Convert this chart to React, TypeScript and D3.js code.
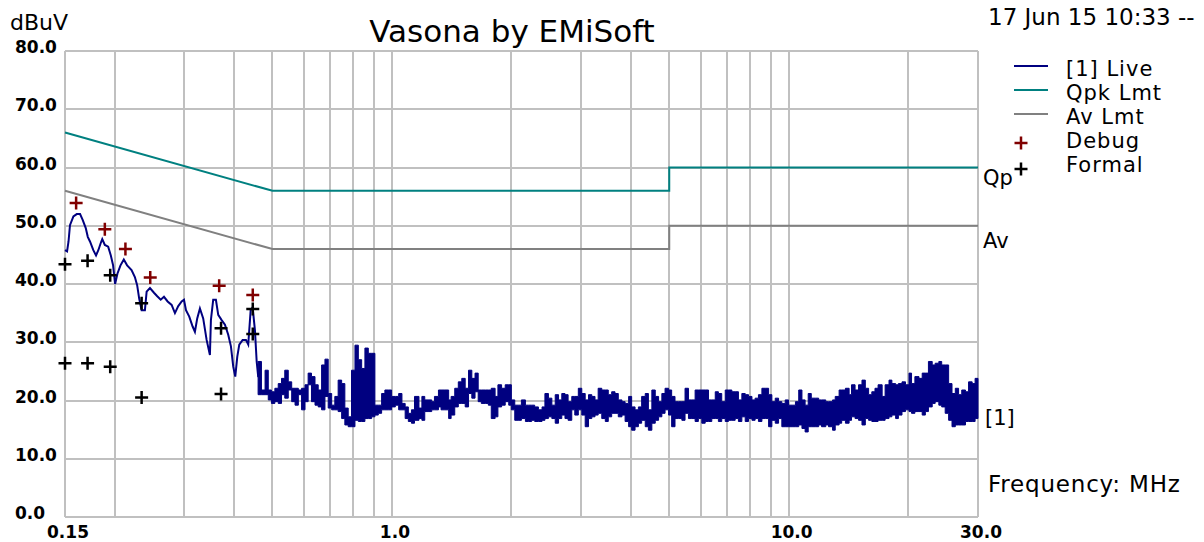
import React from 'react';
import * as d3 from 'd3';

const W = 1204;
const H = 542;

// limits, MHz / dBuV
const limitFreq = [0.15, 0.5, 5, 5, 30];
const qpkLimit = [66, 56, 56, 60, 60];
const avLimit = [56, 46, 46, 50, 50];

// live trace, low frequency part (single line)
const liveFreq = [
  0.150, 0.1518, 0.1531, 0.1544, 0.1575, 0.1606, 0.1637, 0.1662, 0.1692, 0.1712,
  0.1734, 0.1768, 0.1796, 0.1820, 0.1845, 0.1862, 0.1890, 0.1927, 0.1957, 0.1983,
  0.2006, 0.2034, 0.2070, 0.2110, 0.2151, 0.2207, 0.2250, 0.2280, 0.2307, 0.2340,
  0.2385, 0.2409, 0.2456, 0.2514, 0.2562, 0.2614, 0.2664, 0.2721, 0.2785, 0.2839,
  0.2894, 0.2952, 0.2992, 0.3027, 0.3085, 0.3146, 0.3188, 0.3231, 0.3282, 0.3345,
  0.3412, 0.3478, 0.3498, 0.3545, 0.3601, 0.3650, 0.3723, 0.3795, 0.3868, 0.3929,
  0.3982, 0.4029, 0.4076, 0.4124, 0.4205, 0.4287, 0.4344, 0.4406, 0.4457, 0.4517,
  0.4562, 0.4604,
];
const liveLevel = [
  45.8, 45.6, 47.3, 50.1, 51.6, 52.0, 52.0, 51.0, 49.6, 48.1,
  47.3, 45.8, 44.9, 45.8, 47.0, 47.7, 46.7, 46.4, 44.9, 43.2,
  40.0, 41.8, 43.2, 44.2, 43.2, 42.4, 41.2, 39.8, 37.5, 35.5,
  35.5, 38.7, 39.3, 38.5, 37.9, 37.3, 37.8, 37.0, 36.4, 35.0,
  36.2, 37.0, 37.3, 35.5, 34.4, 32.7, 31.8, 34.1, 35.8, 34.1,
  30.4, 27.8, 33.8, 37.3, 37.3, 34.7, 33.8, 33.0, 31.3, 29.3,
  25.8, 24.1, 27.5, 29.6, 30.4, 30.4, 29.6, 35.5, 36.0, 32.0,
  26.7, 24.0,
];

// live trace, noisy part: max/min per screen column
const bandFreq = [
  0.460, 0.469, 0.479, 0.488, 0.497, 0.507, 0.517, 0.527, 0.537, 0.548,
  0.559, 0.570, 0.581, 0.592, 0.604, 0.615, 0.627, 0.640, 0.652, 0.665,
  0.678, 0.691, 0.705, 0.718, 0.732, 0.747, 0.761, 0.776, 0.791, 0.807,
  0.823, 0.839, 0.855, 0.872, 0.889, 0.906, 0.924, 0.942, 0.960, 0.979,
  0.998, 1.02, 1.04, 1.06, 1.08, 1.10, 1.12, 1.14, 1.17, 1.19,
  1.21, 1.24, 1.26,
  1.28, 1.31, 1.33, 1.36, 1.39, 1.41, 1.44, 1.47, 1.50, 1.53,
  1.56, 1.59, 1.62, 1.65, 1.68, 1.72, 1.75, 1.78, 1.82, 1.85,
  1.89, 1.93, 1.97, 2.00, 2.04, 2.08, 2.12, 2.17, 2.21, 2.25,
  2.29, 2.34, 2.39, 2.43, 2.48, 2.53, 2.58, 2.63, 2.68, 2.73,
  2.78, 2.84, 2.89, 2.95, 3.01, 3.07, 3.13, 3.19, 3.25, 3.31,
  3.38, 3.45, 3.51, 3.58,
  3.65, 3.72, 3.80, 3.87, 3.95, 4.02, 4.10, 4.18, 4.26, 4.35,
  4.43, 4.52, 4.61, 4.70, 4.79, 4.88, 4.98, 5.07, 5.17, 5.27,
  5.38, 5.48, 5.59, 5.70, 5.81, 5.92, 6.04, 6.16, 6.28, 6.40,
  6.53, 6.65, 6.78, 6.92, 7.05, 7.19, 7.33, 7.47, 7.62, 7.77,
  7.92, 8.08, 8.23, 8.39, 8.56, 8.73, 8.90, 9.07, 9.25, 9.43,
  9.61, 9.80, 9.99, 10.2,
  10.4, 10.6, 10.8, 11.0, 11.2, 11.4, 11.7, 11.9, 12.1, 12.4,
  12.6, 12.9, 13.1, 13.4, 13.6, 13.9, 14.2, 14.4, 14.7, 15.0,
  15.3, 15.6, 15.9, 16.2, 16.5, 16.8, 17.2, 17.5, 17.9, 18.2,
  18.6, 18.9, 19.3, 19.7, 20.1, 20.4, 20.8, 21.3, 21.7, 22.1,
  22.5, 23.0, 23.4, 23.9, 24.3, 24.8, 25.3, 25.8, 26.3, 26.8,
  27.3, 27.9, 28.4, 29.0, 29.5, 30.0,
];
const bandHi = [
  26.7, 21.8, 25.2, 21.8, 21.5, 22.1, 22.9, 23.8, 25.2, 23.2,
  22.1, 22.1, 21.8, 22.1, 22.7, 24.7, 24.1, 22.7, 21.8, 26.1,
  27.1, 21.2, 19.2, 20.7, 23.5, 22.9, 18.7, 17.2, 25.2, 29.5,
  27.0, 25.5, 29.0, 28.1, 28.1, 19.2, 19.2, 21.2, 21.8, 21.8,
  20.7, 20.7, 21.2, 19.5, 18.9, 17.8, 18.4, 20.7, 18.7, 20.7,
  20.1, 20.1, 19.8,
  20.7, 21.8, 21.8, 21.8, 20.1, 20.7, 22.1, 23.2, 23.8, 22.1,
  25.2, 23.8, 24.7, 21.8, 21.8, 21.8, 21.8, 22.1, 20.7, 22.7,
  22.1, 22.7, 22.7, 20.1, 19.2, 19.2, 20.1, 19.2, 19.2, 19.2,
  18.9, 18.4, 18.9, 21.2, 20.4, 19.2, 21.0, 20.1, 21.2, 21.0,
  19.8, 20.7, 20.7, 22.1, 21.2, 20.1, 21.0, 20.7, 20.1, 22.1,
  21.8, 21.8, 21.0, 21.5,
  21.2, 20.1, 19.8, 19.5, 20.7, 18.9, 18.4, 18.9, 20.7, 21.2,
  18.4, 21.8, 20.7, 19.8, 21.2, 22.1, 21.8, 20.7, 19.8, 19.8,
  19.8, 22.1, 20.1, 20.1, 21.8, 21.8, 21.8, 21.8, 20.1, 20.1,
  21.5, 21.2, 19.8, 21.8, 21.8, 21.5, 21.5, 20.1, 21.2, 21.0,
  20.7, 20.1, 20.4, 21.0, 22.1, 22.1, 21.0, 19.8, 20.4, 19.8,
  19.5, 20.1, 19.2, 19.2,
  19.8, 21.8, 20.1, 19.2, 21.2, 20.4, 20.4, 20.1, 20.1, 19.8,
  19.8, 20.1, 20.7, 21.8, 21.8, 22.1, 21.0, 22.7, 21.8, 22.7,
  23.5, 22.1, 21.0, 21.5, 22.1, 22.7, 20.7, 22.7, 23.5, 22.9,
  22.7, 22.9, 23.2, 22.7, 24.7, 22.9, 24.1, 23.8, 24.7, 24.7,
  26.7, 26.1, 26.4, 26.7, 26.1, 26.1, 22.9, 21.2, 22.1, 21.0,
  21.8, 21.5, 23.2, 22.9, 23.8, 23.8,
];
const bandLo = [
  21.0, 21.0, 21.0, 20.1, 19.5, 19.8, 19.5, 21.0, 20.4, 21.8,
  19.8, 19.2, 21.0, 18.4, 19.8, 22.7, 19.8, 19.2, 18.9, 18.4,
  20.7, 18.7, 18.4, 18.4, 18.1, 16.9, 15.8, 15.5, 15.5, 16.6,
  16.4, 16.4, 16.9, 16.9, 17.2, 17.5, 17.8, 18.4, 18.4, 18.4,
  18.9, 19.2, 18.4, 18.4, 16.9, 16.4, 16.1, 16.6, 16.9, 16.6,
  18.1, 18.1, 18.4,
  18.4, 18.9, 18.4, 18.4, 16.9, 17.5, 18.9, 19.5, 19.5, 18.9,
  21.2, 20.4, 21.5, 19.8, 19.5, 19.5, 19.2, 16.9, 17.2, 18.9,
  19.2, 19.8, 19.2, 18.4, 16.6, 16.6, 16.9, 16.4, 16.4, 16.6,
  16.4, 16.4, 16.6, 16.9, 17.2, 16.9, 16.1, 16.9, 17.5, 16.9,
  16.6, 18.4, 17.5, 18.4, 17.5, 15.5, 16.9, 17.2, 17.5, 17.8,
  16.9, 16.4, 17.2, 17.8,
  17.8, 17.2, 17.5, 16.4, 15.5, 14.9, 15.5, 16.1, 16.6, 15.5,
  14.9, 16.1, 16.6, 17.2, 17.8, 18.4, 17.5, 15.5, 16.9, 16.9,
  16.6, 17.8, 16.9, 16.9, 16.4, 16.9, 16.1, 16.4, 16.4, 16.9,
  16.9, 16.4, 16.9, 16.4, 16.6, 16.6, 16.9, 16.4, 17.2, 16.4,
  16.9, 16.6, 16.9, 16.4, 16.9, 16.9, 15.5, 16.6, 16.1, 16.9,
  15.5, 15.5, 15.5, 15.5,
  15.5, 15.8, 15.2, 14.6, 15.5, 15.5, 15.5, 15.8, 15.5, 15.8,
  15.5, 14.9, 15.8, 16.1, 16.6, 16.1, 16.6, 17.2, 16.9, 16.6,
  15.8, 16.9, 16.6, 16.4, 16.4, 16.6, 16.6, 16.9, 17.2, 17.5,
  16.9, 17.5, 18.1, 18.4, 18.1, 17.8, 18.1, 18.1, 17.5, 18.1,
  18.9, 19.5, 19.8, 19.2, 18.9, 17.8, 16.6, 15.5, 15.8, 15.8,
  15.8, 16.4, 16.4, 16.4, 16.9, 16.9,
];

const debugFreq = [0.160, 0.189, 0.213, 0.246, 0.367, 0.446];
const debugLevel = [53.9, 49.4, 46.0, 41.1, 39.7, 38.1];
const formalFreq = [0.150, 0.171, 0.195, 0.234, 0.371, 0.446];
const formalQp = [43.4, 44.0, 41.5, 36.7, 32.4, 35.7];
const formalAv = [26.4, 26.4, 25.8, 20.5, 21.1, 31.4];

const gridFreq = [
  0.15, 0.2, 0.3, 0.4, 0.5, 0.6, 0.7, 0.8, 0.9,
  1, 2, 3, 4, 5, 6, 7, 8, 9, 10, 20, 30,
];
const yTicks = [0, 10, 20, 30, 40, 50, 60, 70, 80];
const xLabelFreq = [0.15, 1, 10, 30];
const xLabels = ['0.15', '1.0', '10.0', '30.0'];

const legendLabels = ['[1] Live', 'Qpk Lmt', 'Av Lmt', 'Debug', 'Formal'];

const NAVY = '#000080';
const TEAL = '#008080';
const GREY = '#808080';
const GRID = '#c0c0c0';
const DEBUG = '#800000';

const font = "'DejaVu Sans', sans-serif";

const x = d3.scaleLog().domain([0.15, 30]).range([65, 978]);
const y = d3.scaleLinear().domain([0, 80]).range([517, 51]);

const plus = (cx: number, cy: number) => `M${cx - 6.5},${cy}H${cx + 6.5}M${cx},${cy - 6.5}V${cy + 6.5}`;

export default function App() {
  const line = d3.line<number>().x((_, i) => x(liveFreq[i])).y(d => y(d));
  const band = d3.area<number>()
    .curve(d3.curveStepAfter)
    .x((_, i) => x(bandFreq[i]))
    .y0((_, i) => y(bandLo[i]))
    .y1(d => y(d));
  const limit = (vals: number[]) =>
    d3.line<number>().x((_, i) => x(limitFreq[i])).y(d => y(d))(vals) || '';

  const legendY = [66, 90, 114, 143, 169];
  const legendText = [76, 100, 124, 148, 172];

  return (
    <svg width={W} height={H} style={{ position: 'absolute', left: 0, top: 0, background: '#fff' }}>
      {/* grid */}
      <g stroke={GRID} strokeWidth={2} shapeRendering="crispEdges">
        {gridFreq.map(f => (
          <line key={'v' + f} x1={x(f)} x2={x(f)} y1={y(80)} y2={y(0)} />
        ))}
        {yTicks.map(t => (
          <line key={'h' + t} x1={x(0.15)} x2={x(30)} y1={y(t)} y2={y(t)} />
        ))}
      </g>

      {/* limits */}
      <path d={limit(avLimit)} fill="none" stroke={GREY} strokeWidth={2} />
      <path d={limit(qpkLimit)} fill="none" stroke={TEAL} strokeWidth={2} />

      {/* live trace */}
      <path d={line(liveLevel) || ''} fill="none" stroke={NAVY} strokeWidth={2} />
      <path d={band(bandHi) || ''} fill={NAVY} stroke={NAVY} strokeWidth={1} />

      {/* markers */}
      <g fill="none" strokeWidth={2.5}>
        {debugFreq.map((f, i) => (
          <path key={'d' + i} d={plus(x(f), y(debugLevel[i]))} stroke={DEBUG} />
        ))}
        {formalFreq.map((f, i) => (
          <path key={'q' + i} d={plus(x(f), y(formalQp[i]))} stroke="#000" />
        ))}
        {formalFreq.map((f, i) => (
          <path key={'a' + i} d={plus(x(f), y(formalAv[i]))} stroke="#000" />
        ))}
      </g>

      {/* axis labels */}
      <g fontFamily={font} fontWeight="bold" fontSize={17} fill="#000">
        {yTicks.map(t => (
          <text key={'yl' + t} x={15} y={y(t) + 2}>{t.toFixed(1)}</text>
        ))}
        {xLabelFreq.map((f, i) => (
          <text key={'xl' + i} x={x(f) + 3} y={538} textAnchor="middle">{xLabels[i]}</text>
        ))}
      </g>

      <g fontFamily={font} fill="#000">
        <text x={512} y={42} fontSize={31} textAnchor="middle">Vasona by EMiSoft</text>
        <text x={10} y={30} fontSize={22}>dBuV</text>
        <text x={988} y={25} fontSize={23}>17 Jun 15 10:33 --</text>
        <text x={988} y={492} fontSize={23} letterSpacing={0.8}>Frequency: MHz</text>
        <text x={983} y={185} fontSize={21}>Qp</text>
        <text x={983} y={248} fontSize={21}>Av</text>
        <text x={985} y={425} fontSize={21}>[1]</text>
      </g>

      {/* legend */}
      <g>
        <line x1={1014} x2={1048} y1={legendY[0]} y2={legendY[0]} stroke={NAVY} strokeWidth={2} />
        <line x1={1014} x2={1048} y1={legendY[1]} y2={legendY[1]} stroke={TEAL} strokeWidth={2} />
        <line x1={1014} x2={1048} y1={legendY[2]} y2={legendY[2]} stroke={GREY} strokeWidth={2} />
        <path d={plus(1021, legendY[3])} stroke={DEBUG} strokeWidth={2.5} />
        <path d={plus(1021, legendY[4])} stroke="#000" strokeWidth={2.5} />
        {legendLabels.map((l, i) => (
          <text key={l} x={1066} y={legendText[i]} fontFamily={font} fontSize={21} letterSpacing={1}>{l}</text>
        ))}
      </g>
    </svg>
  );
}
